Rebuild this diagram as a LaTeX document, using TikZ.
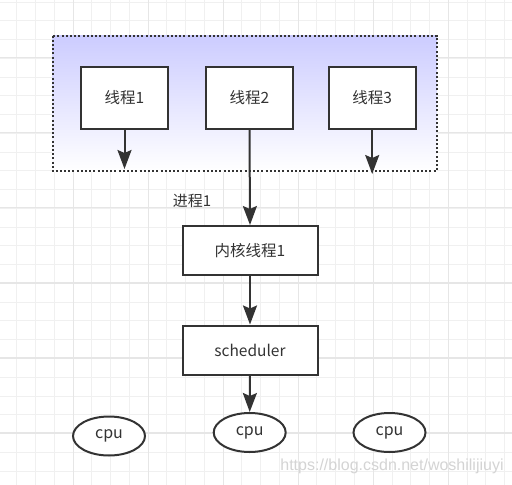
\documentclass[tikz,border=0pt]{standalone}
\usepackage{fontspec}
\newfontfamily\cjk{Noto Sans CJK SC}
\usetikzlibrary{arrows.meta,shapes.geometric}
\definecolor{linegray}{HTML}{333333}
\definecolor{gridgray}{HTML}{F0F0F0}
\definecolor{majorgray}{HTML}{E6E6E6}
\definecolor{procblue}{HTML}{CCCCFF}
\begin{document}
\begin{tikzpicture}[x=1pt,y=-1pt,
    box/.style={draw=linegray,line width=2pt,fill=white,rectangle,text=linegray,inner sep=0pt,font=\cjk\fontsize{15.5}{18}\selectfont},
    cpubox/.style={draw=linegray,line width=2pt,fill=white,ellipse,text=linegray,inner sep=0pt,minimum width=72pt,minimum height=39pt,font=\cjk\fontsize{16}{18}\selectfont},
    arr/.style={draw=linegray,line width=2pt,-{Stealth[length=19pt,width=14pt,inset=3pt]}}]
        \useasboundingbox (0,0) rectangle (512,485);
        \fill[white] (0,0) rectangle (512,485);
        %% Grid
        \foreach \i in {0,...,26} \draw[gridgray,line width=0.8pt] (16.7+18.76*\i,0) -- ++(0,485);
        \foreach \i in {0,...,25} \draw[gridgray,line width=0.8pt] (0,1.94+18.76*\i) -- ++(512,0);
        \foreach \i in {0,...,6} \draw[majorgray,line width=1.2pt] (448.3-75.04*\i,0) -- ++(0,485);
        \foreach \i in {0,...,6} \draw[majorgray,line width=1.2pt] (0,433-75.04*\i) -- ++(512,0);
        %% Process
        \shade[top color=procblue,bottom color=white] (52.5,35.5) rectangle (437,171);
        \draw[linegray,line width=2pt,dash pattern=on 2pt off 2.2pt] (52.5,35.5) rectangle (437,171);
        \node[text=linegray,font=\cjk\fontsize{15}{18}\selectfont] (proc) at (192,201) {进程1};
        %% Threads
        \node[box,minimum width=87pt,minimum height=62pt] (ta) at (124.5,98) {线程1};
        \node[box,minimum width=87pt,minimum height=62pt] (tb) at (249.5,98) {线程2};
        \node[box,minimum width=87pt,minimum height=62pt] (tc) at (372.2,98) {线程3};
        \coordinate (ea) at (124.5,169);
        \coordinate (ec) at (372.2,174);
        %% Kernel and scheduler
        \node[box,minimum width=135pt,minimum height=49pt] (kt) at (250,250.5) {内核线程1};
        \node[box,minimum width=135pt,minimum height=49pt] (sched) at (250,350) {scheduler};
        %% CPUs
        \node[cpubox] (cpua) at (109,436) {cpu};
        \node[cpubox] (cpub) at (249.7,432.5) {cpu};
        \node[cpubox] (cpuc) at (389.5,432.5) {cpu};
        %% Arrows
        \draw[arr] (ta.south) -- (ea);
        \draw[arr] (tc.south) -- (ec);
        \draw[arr] (tb.south) -- (kt.north);
        \draw[arr] (kt.south) -- (sched.north);
        \draw[arr] (sched.south) -- (cpub.north);
        %% Watermark
        \node[text=black!17,font=\fontspec{Liberation Sans}\fontsize{16}{18}\selectfont] (mark) at (392,466) {https://blog.csdn.net/woshilijiuyi};
    \end{tikzpicture}
\end{document}
